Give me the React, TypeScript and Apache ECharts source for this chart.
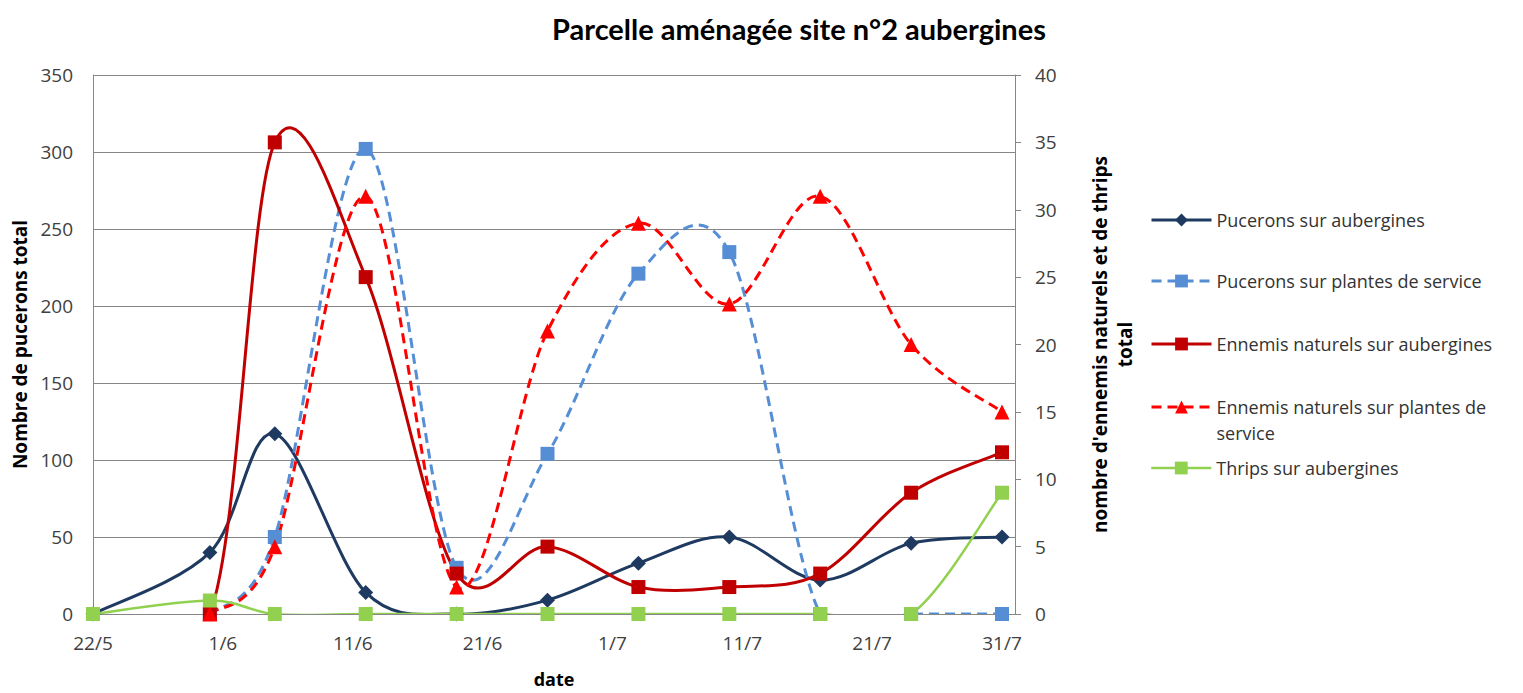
import React, { useEffect, useRef } from 'react';
import * as echarts from 'echarts';

// ---- data ----
const sampleDates = ['22/5', '31/5', '5/6', '12/6', '19/6', '26/6', '3/7', '10/7', '17/7', '24/7', '31/7'];
const xTickLabels = ['22/5', '1/6', '11/6', '21/6', '1/7', '11/7', '21/7', '31/7'];
const xStart = '22/5';
const xEnd = '1/8';

const pucAub: (number | null)[] = [0, 40, 117, 14, 0, 9, 33, 50, 22, 46, 50];
const pucServ: (number | null)[] = [null, 0, 50, 302, 30, 104, 221, 235, 0, 0, 0];
const ennAub: (number | null)[] = [0, 0, 35, 25, 3, 5, 2, 2, 3, 9, 12];
const ennServ: (number | null)[] = [null, 0, 5, 31, 2, 21, 29, 23, 31, 20, 15];
const thrips: (number | null)[] = [0, 1, 0, 0, 0, 0, 0, 0, 0, 0, 9];

const seriesNames = [
  'Pucerons sur aubergines',
  'Pucerons sur plantes de service',
  'Ennemis naturels sur aubergines',
  'Ennemis naturels sur plantes de service',
  'Thrips sur aubergines',
];

const FONT = '"Open Sans", sans-serif';
const TITLE_FONT = 'Lato, "Open Sans", sans-serif';

function dayOf(s: string): number {
  const [d, m] = s.split('/').map(Number);
  return Math.round(Date.UTC(2000, m - 1, d) / 86400000);
}
const day0 = dayOf(xStart);
const offset = (s: string) => dayOf(s) - day0;

function pairs(vals: (number | null)[]) {
  const out: [number, number][] = [];
  vals.forEach((v, i) => {
    if (v !== null && v !== undefined) out.push([offset(sampleDates[i]), v]);
  });
  return out;
}

// Excel-like smoothing (Catmull-Rom, tension 1/6)
function smoothPath(pts: number[][]): string {
  if (!pts.length) return '';
  let d = `M${pts[0][0]},${pts[0][1]}`;
  for (let i = 0; i < pts.length - 1; i++) {
    const p0 = pts[i - 1] || pts[i];
    const p1 = pts[i];
    const p2 = pts[i + 1];
    const p3 = pts[i + 2] || pts[i + 1];
    const c1x = p1[0] + (p2[0] - p0[0]) / 6;
    const c1y = p1[1] + (p2[1] - p0[1]) / 6;
    const c2x = p2[0] - (p3[0] - p1[0]) / 6;
    const c2y = p2[1] - (p3[1] - p1[1]) / 6;
    d += ` C${c1x},${c1y} ${c2x},${c2y} ${p2[0]},${p2[1]}`;
  }
  return d;
}

interface Spec {
  name: string;
  vals: (number | null)[];
  yAxisIndex: number;
  color: string;
  width: number;
  dash: number[] | null;
  symbol: string;
  symbolSize: number;
}

const specs: Spec[] = [
  { name: seriesNames[0], vals: pucAub, yAxisIndex: 0, color: '#1F3A60', width: 3, dash: null, symbol: 'diamond', symbolSize: 15 },
  { name: seriesNames[1], vals: pucServ, yAxisIndex: 0, color: '#558ED5', width: 3, dash: [10, 6], symbol: 'rect', symbolSize: 14 },
  { name: seriesNames[2], vals: ennAub, yAxisIndex: 1, color: '#C00000', width: 3, dash: null, symbol: 'rect', symbolSize: 14 },
  { name: seriesNames[3], vals: ennServ, yAxisIndex: 1, color: '#FF0000', width: 3, dash: [10, 6], symbol: 'triangle', symbolSize: 15 },
  { name: seriesNames[4], vals: thrips, yAxisIndex: 1, color: '#92D050', width: 2.5, dash: null, symbol: 'rect', symbolSize: 14 },
];

export default function App() {
  const ref = useRef<HTMLDivElement>(null);
  useEffect(() => {
    if (!ref.current) return;
    const chart = echarts.init(ref.current, undefined, { renderer: 'svg' });

    const series: any[] = [];
    specs.forEach((s) => {
      const data = pairs(s.vals);
      series.push({
        type: 'custom',
        yAxisIndex: s.yAxisIndex,
        clip: true,
        silent: true,
        data,
        encode: { x: 0, y: 1 },
        renderItem: (params: any, api: any) => {
          if (params.dataIndex !== 0) return null;
          const pts = data.map((p) => api.coord(p));
          return {
            type: 'path',
            shape: { pathData: smoothPath(pts) },
            style: { fill: 'none', stroke: s.color, lineWidth: s.width, lineDash: s.dash || undefined },
          };
        },
      });
      series.push({
        name: s.name,
        type: 'line',
        yAxisIndex: s.yAxisIndex,
        symbol: s.symbol,
        symbolSize: s.symbolSize,
        data,
        lineStyle: { opacity: 0 },
        itemStyle: { color: s.color },
      });
    });

    const legendBase = {
      left: 1150,
      orient: 'vertical',
      itemWidth: 60,
      itemHeight: 16,
      padding: 0,
      textStyle: { fontFamily: FONT, fontSize: 18, color: '#333', lineHeight: 20 },
    };
    const legendItem = (i: number) => ({
      name: specs[i].name,
      lineStyle: { color: specs[i].color, width: specs[i].width, type: specs[i].dash || 'solid', opacity: 1 },
      itemStyle: { color: specs[i].color, opacity: 1 },
    });
    const legendCenters = [220, 281, 344, 407, 468];

    const option: any = {
      animation: false,
      backgroundColor: '#fff',
      title: {
        text: 'Parcelle aménagée site n°2 aubergines',
        left: 794,
        textAlign: 'center',
        top: 9,
        textStyle: { fontFamily: TITLE_FONT, fontSize: 29, fontWeight: 'bold', color: '#000' },
      },
      legend: [0, 1, 2, 3, 4].map((i) =>
        i === 3
          ? {
              ...legendBase,
              top: legendCenters[i] - 39,
              data: [legendItem(i)],
              formatter: () => '\nEnnemis naturels sur plantes de\nservice',
              textStyle: { fontFamily: FONT, fontSize: 18, color: '#333', lineHeight: 26 },
            }
          : { ...legendBase, top: legendCenters[i] - 10, data: [legendItem(i)] }
      ),
      grid: { left: 93, right: 1523 - 1015, top: 75, bottom: 693 - 621, containLabel: false },
      xAxis: {
        type: 'value',
        min: 0,
        max: offset(xEnd),
        interval: 10,
        name: 'date',
        nameLocation: 'middle',
        nameGap: 56,
        nameTextStyle: { fontFamily: FONT, fontSize: 18, fontWeight: 'bold', color: '#000' },
        axisLine: { show: true, lineStyle: { color: '#868686' } },
        axisTick: { show: false },
        splitLine: { show: false },
        axisLabel: {
          margin: 19,
          fontFamily: FONT,
          fontSize: 19,
          color: '#404040',
          formatter: (v: number) => {
            const t = xTickLabels.find((s) => offset(s) === Math.round(v));
            return t ?? '';
          },
        },
      },
      yAxis: [
        {
          type: 'value',
          min: 0,
          max: 350,
          interval: 50,
          position: 'left',
          name: 'Nombre de pucerons total',
          nameLocation: 'middle',
          nameGap: 64,
          nameTextStyle: { fontFamily: FONT, fontSize: 19, fontWeight: 'bold', color: '#000' },
          axisLine: { show: true, lineStyle: { color: '#868686' } },
          axisTick: { show: false },
          axisLabel: { margin: 20, fontFamily: FONT, fontSize: 19, color: '#404040' },
          splitLine: { show: true, lineStyle: { color: '#868686', width: 1 } },
        },
        {
          type: 'value',
          min: 0,
          max: 40,
          interval: 5,
          position: 'right',
          name: "nombre d'ennemis naturels et de thrips\ntotal",
          nameLocation: 'middle',
          nameGap: 72,
          nameTextStyle: { fontFamily: FONT, fontSize: 19, fontWeight: 'bold', color: '#000', lineHeight: 25, align: 'center' },
          axisLine: { show: true, lineStyle: { color: '#868686' } },
          axisTick: { show: true, length: 6, inside: false, lineStyle: { color: '#868686' } },
          axisLabel: { margin: 20, fontFamily: FONT, fontSize: 19, color: '#404040' },
          splitLine: { show: false },
        },
      ],
      series,
    };
    chart.setOption(option);
    return () => chart.dispose();
  }, []);
  return (
    <div
      ref={ref}
      style={{ position: 'fixed', left: 0, top: 0, width: 1523, height: 693, background: '#fff' }}
    />
  );
}
